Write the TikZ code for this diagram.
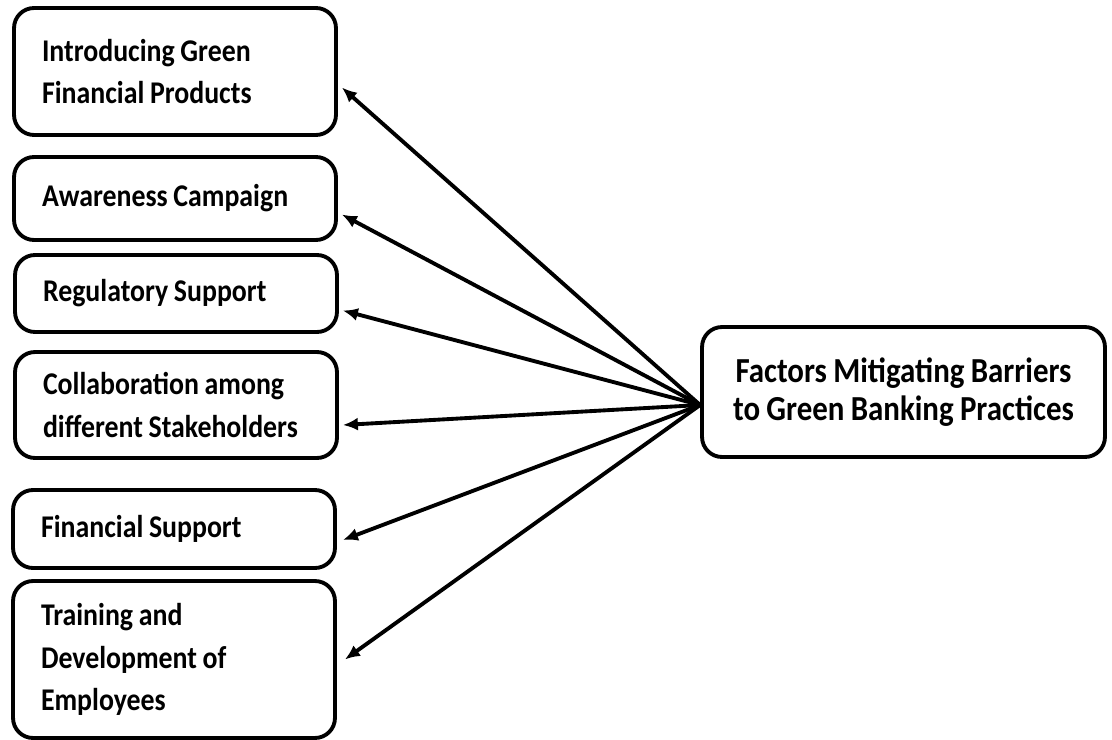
\documentclass[tikz,border=0pt]{standalone}
\usepackage{fontspec}
\setmainfont{Carlito}[FakeStretch=0.88, WordSpace=0.9]
\usepackage{tikz}
\usetikzlibrary{calc}
\usetikzlibrary{arrows.meta}
\tikzset{factor/.style={draw=black, line width=2.2pt, rounded corners=0.4cm, align=flush left, text width=5.32cm, inner xsep=0.56cm, font=\fontsize{18}{24}\selectfont\bfseries}}
\tikzset{goal/.style={draw=black, line width=2.2pt, rounded corners=0.4cm, align=center, minimum width=8.06cm, minimum height=2.6cm, font=\fontsize{20}{22}\selectfont\bfseries}}

\begin{document}
\begin{tikzpicture}[x=0.02cm, y=-0.02cm]
\useasboundingbox (0, 0) rectangle (1112, 740);
\tikzstyle{link} = [line width=2.2pt, -{Latex[length=0.3cm, width=0.26cm]}]

\node[factor, minimum height=2.54cm](prod) at (175, 71.5){Introducing Green\\Financial Products};
\node[factor, minimum height=1.66cm](aware) at (175, 198.5){Awareness Campaign};
\node[factor, minimum height=1.54cm](regul) at (176, 293.5){Regulatory Support};
\node[factor, minimum height=2.12cm](collab) at (176, 405){Collaboration among\\different Stakeholders};
\node[factor, minimum height=1.56cm](finance) at (174, 529){Financial Support};
\node[factor, minimum height=3.14cm](train) at (174, 659.5){Training and\\Development of\\Employees};

\node[goal](goal) at (903.5, 392){Factors Mitigating Barriers\\to Green Banking Practices};
\coordinate (hub) at ($ (goal.west) +(0, 13) $);

\draw[link] (hub) -- ($ (prod.east) +(4, 16) $);
\draw[link] (hub) -- ($ (aware.east) +(4, 16) $);
\draw[link] (hub) -- ($ (regul.east) +(4, 17) $);
\draw[link] (hub) -- ($ (collab.east) +(4, 20) $);
\draw[link] (hub) -- ($ (finance.east) +(6, 11) $);
\draw[link] (hub) -- ($ (train.east) +(8, 0) $);

%\node[] at (903.5, 600){};
\end{tikzpicture}
\end{document}
